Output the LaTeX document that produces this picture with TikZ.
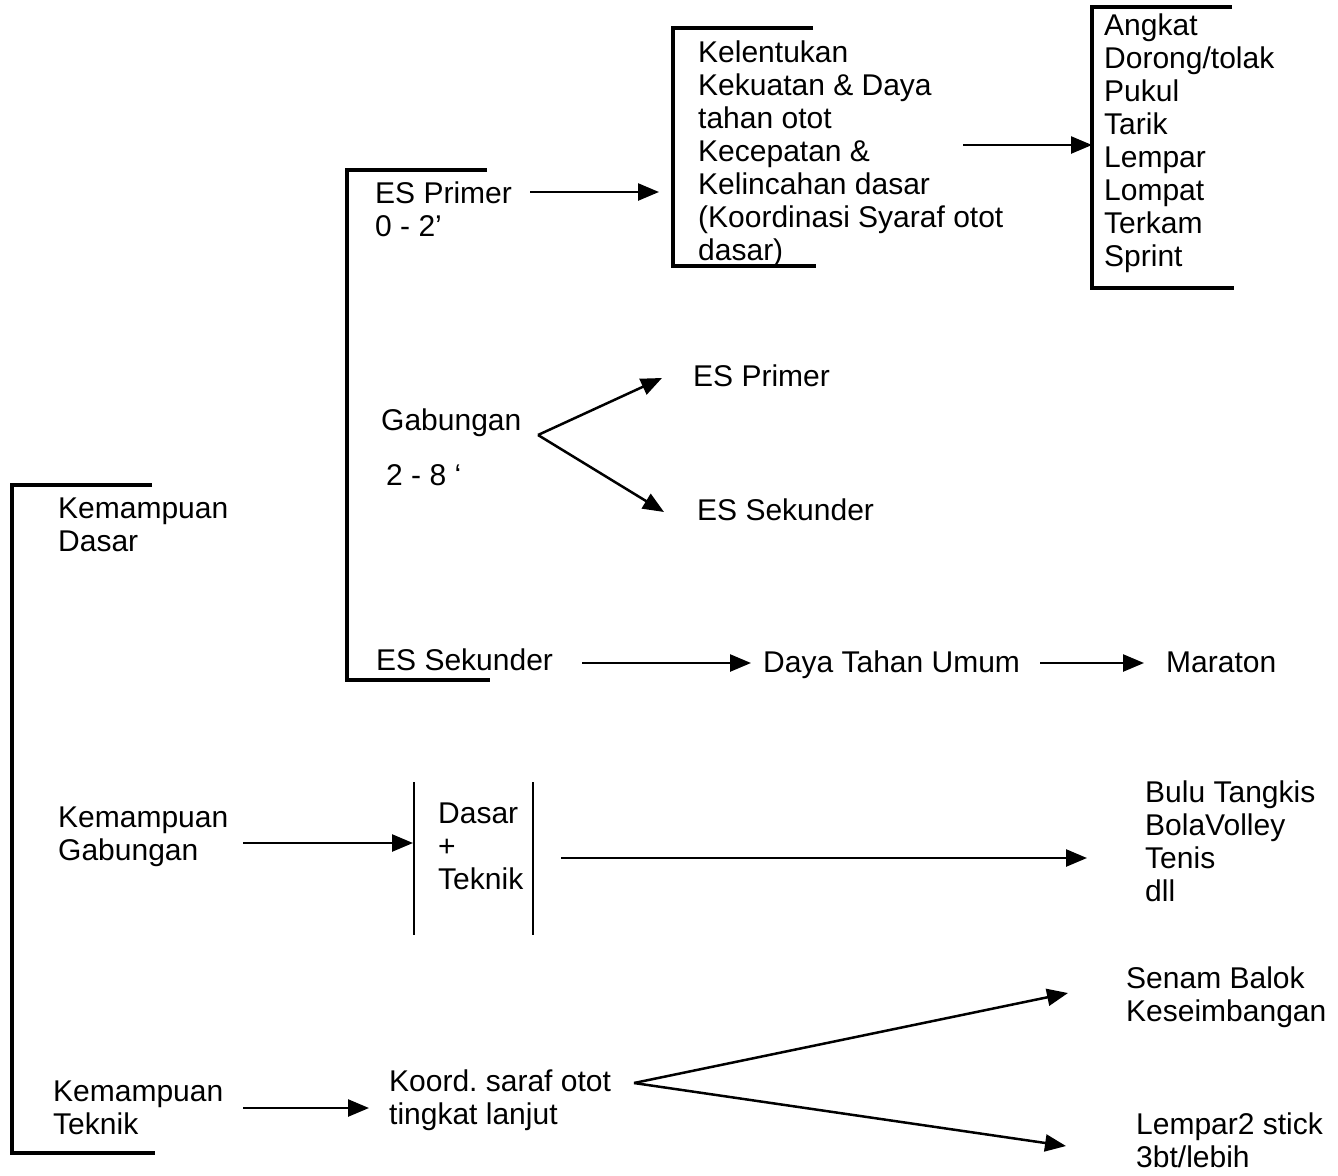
\documentclass[tikz,border=0pt]{standalone}
\usepackage{fontspec}
\setmainfont{Liberation Sans}
\usetikzlibrary{arrows.meta}
\frenchspacing
\tikzset{
  lbl/.style={anchor=north west, inner sep=0pt, align=left, font=\fontsize{30}{33}\selectfont},
  arr/.style={line width=2.5pt, -{Triangle[length=21pt,width=17pt]}},
  brk/.style={line width=3.8pt},
  bar/.style={line width=2.6pt}
}
\begin{document}
\begin{tikzpicture}[x=1pt,y=-1pt]
\useasboundingbox (0,0) rectangle (1338,1175);
% brackets
\draw[brk] (152,485) -- (12,485) -- (12,1153) -- (155,1153);
\draw[brk] (487,170) -- (347,170) -- (347,680) -- (490,680);
\draw[brk] (813,28) -- (673,28) -- (673,266) -- (816,266);
\draw[brk] (1232,7) -- (1092,7) -- (1092,288) -- (1234,288);
\draw[bar] (414,782) -- (414,935);
\draw[bar] (533,782) -- (533,935);
% text nodes
\node[lbl] (kd) at (58,497.5) {Kemampuan\\Dasar};
\node[lbl] (esp) at (375,181.5) {ES Primer\\0 - 2’};
\node[lbl] (kel) at (698,41) {Kelentukan\\Kekuatan \& Daya\\tahan otot\\Kecepatan \&\\Kelincahan dasar\\(Koordinasi Syaraf otot\\dasar)};
\node[lbl] (ang) at (1104,14) {Angkat\\Dorong/tolak\\Pukul\\Tarik\\Lempar\\Lompat\\Terkam\\Sprint};
\node[lbl] (gab) at (381,409) {Gabungan};
\node[lbl] (gabt) at (386,464) {2 - 8 ‘};
\node[lbl] (esp2) at (693,365) {ES Primer};
\node[lbl] (ess2) at (697,499) {ES Sekunder};
\node[lbl] (ess) at (376,649) {ES Sekunder};
\node[lbl] (dtu) at (763,651) {Daya Tahan Umum};
\node[lbl] (mar) at (1166,652) {Maraton};
\node[lbl] (kg) at (58,806.5) {Kemampuan\\Gabungan};
\node[lbl] (dt) at (438,802.5) {Dasar\\+\\Teknik};
\node[lbl] (bulu) at (1145,780.5) {Bulu Tangkis\\BolaVolley\\Tenis\\dll};
\node[lbl] (kt) at (53,1080.5) {Kemampuan\\Teknik};
\node[lbl] (koord) at (389,1069.5) {Koord. saraf otot\\tingkat lanjut};
\node[lbl] (senam) at (1126,966.5) {Senam Balok\\Keseimbangan};
\node[lbl] (lempar) at (1136,1113) {Lempar2 stick\\3bt/lebih};
% connector end points
\coordinate (a1s) at (530,192); \coordinate (a1e) at (659,192);
\coordinate (a2s) at (963,145); \coordinate (a2e) at (1092,145);
\coordinate (gabo) at (538,435); \coordinate (g1e) at (662,378); \coordinate (g2e) at (664,512);
\coordinate (s1s) at (582,663); \coordinate (s1e) at (751,663);
\coordinate (s2s) at (1040,663); \coordinate (s2e) at (1144,663);
\coordinate (k1s) at (243,843); \coordinate (k1e) at (413,843);
\coordinate (k2s) at (561,858); \coordinate (k2e) at (1087,858);
\coordinate (t1s) at (243,1108); \coordinate (t1e) at (369,1108);
\coordinate (tko) at (634,1083); \coordinate (t2e) at (1068,993); \coordinate (t3e) at (1066,1146);
% connectors
\draw[arr] (a1s) -- (a1e);
\draw[arr] (a2s) -- (a2e);
\draw[arr] (gabo) -- (g1e);
\draw[arr] (gabo) -- (g2e);
\draw[arr] (s1s) -- (s1e);
\draw[arr] (s2s) -- (s2e);
\draw[arr] (k1s) -- (k1e);
\draw[arr] (k2s) -- (k2e);
\draw[arr] (t1s) -- (t1e);
\draw[arr] (tko) -- (t2e);
\draw[arr] (tko) -- (t3e);
\end{tikzpicture}
\end{document}
